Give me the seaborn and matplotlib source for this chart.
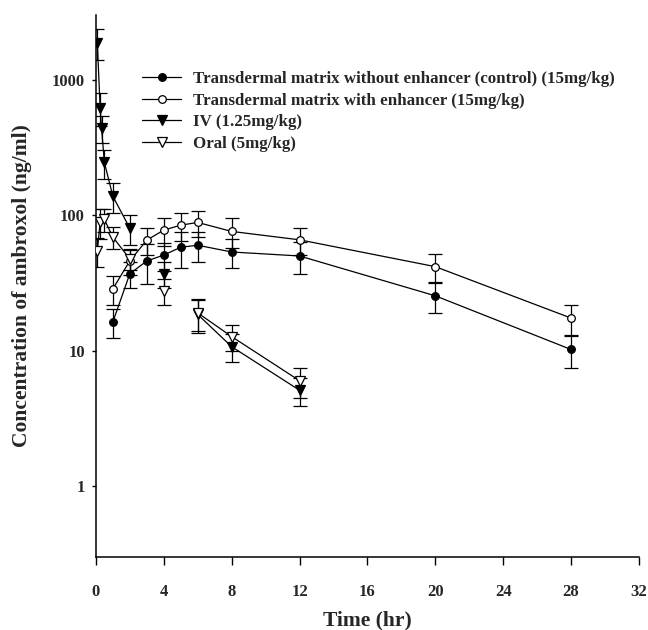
import numpy as np
import pandas as pd
import matplotlib
matplotlib.use("Agg")
import matplotlib.pyplot as plt
from matplotlib.lines import Line2D
from matplotlib.ticker import FixedLocator, NullLocator
import seaborn as sns

# --- data (ng/ml, mean and SD) ---
time_td = [1, 2, 3, 4, 5, 6, 8, 12, 20, 28]
ctrl = [16.3, 37, 45.9, 50.8, 58, 60, 53.5, 50, 25.4, 10.2]
ctrl_sd = [4, 8, 15, 12, 17, 15, 13, 13, 6.5, 2.7]
enh = [28.6, 46, 65.5, 77.6, 84.4, 88.4, 75.9, 65.8, 41.7, 17.4]
enh_sd = [7, 10, 15, 18, 20, 19, 19, 15, 10, 4.4]

# IV / oral share a sampling grid; NaN = no sample (line is broken there)
time_iv = [0.083, 0.25, 0.33, 0.5, 1, 2, 3, 4, 5, 6, 8, 12]
iv = [1870, 622, 444, 245, 138, 80, np.nan, 36.8, np.nan, 18.5, 10.7, 5.1]
iv_sd = [480, 170, 100, 60, 35, 20, np.nan, 8, np.nan, 5, 2.5, 1.2]
time_oral = [0.083, 0.25, 0.5, 1, 2, 3, 4, 5, 6, 8, 12]
oral = [54.4, 88.8, 93, 68.9, 47.5, np.nan, 27.6, np.nan, 19.0, 12.7, 6.0]
oral_sd = [13, 22, 18, 13, 8, np.nan, 6, np.nan, 5, 2.8, 1.5]

labels = ["Transdermal matrix without enhancer (control) (15mg/kg)",
          "Transdermal matrix with enhancer (15mg/kg)",
          "IV (1.25mg/kg)",
          "Oral (5mg/kg)"]

def make_df(t, c, sd, name):
    d = pd.DataFrame({"time": t, "conc": c, "sd": sd})
    d["seg"] = d["conc"].isna().cumsum()
    d["group"] = name
    return d.dropna()

df = pd.concat([make_df(time_td, ctrl, ctrl_sd, labels[0]),
                make_df(time_td, enh, enh_sd, labels[1]),
                make_df(time_iv, iv, iv_sd, labels[2]),
                make_df(time_oral, oral, oral_sd, labels[3])])

styles = {labels[0]: dict(marker="o", mfc="black", ms=5.5),
          labels[1]: dict(marker="o", mfc="white", ms=5.5),
          labels[2]: dict(marker="v", mfc="black", ms=7),
          labels[3]: dict(marker="v", mfc="white", ms=7)}

sns.set_style("ticks")
plt.rcParams["font.family"] = ["Liberation Serif", "DejaVu Serif"]
plt.rcParams["font.weight"] = "bold"

fig = plt.figure(figsize=(6.48, 6.3), dpi=100)
ax = fig.add_axes([0.148, 0.116, 0.838, 0.860])

for name in labels:
    sub = df[df["group"] == name]
    st = styles[name]
    ax.errorbar(sub["time"], sub["conc"], yerr=sub["sd"], fmt="none",
                ecolor="black", elinewidth=0.9, capsize=5, capthick=0.9, zorder=2)
    sns.lineplot(data=sub, x="time", y="conc", units="seg", estimator=None,
                 sort=False, color="black", lw=0.9, marker=st["marker"],
                 markerfacecolor=st["mfc"], markeredgecolor="black",
                 markersize=st["ms"], markeredgewidth=0.9, ax=ax,
                 legend=False, zorder=3)

ax.set_yscale("log")
ax.set_xlim(0, 32)
ax.set_ylim(0.3, 3000)
ax.xaxis.set_major_locator(FixedLocator(range(0, 33, 4)))
ax.yaxis.set_major_locator(FixedLocator([1, 10, 100, 1000]))
ax.yaxis.set_minor_locator(NullLocator())
ax.set_yticklabels(["1", "10", "100", "1000"])
ax.tick_params(axis="both", direction="out", labelsize=12, width=1, color="black")
ax.tick_params(axis="x", length=5.5, pad=14)
ax.tick_params(axis="y", length=3, pad=5)
for lab in ax.get_xticklabels() + ax.get_yticklabels():
    lab.set_fontweight("bold")

sns.despine(ax=ax)
for sp in ["left", "bottom"]:
    ax.spines[sp].set_linewidth(1.1)
    ax.spines[sp].set_color("black")

ax.set_xlabel("Time (hr)", fontsize=15.5, fontweight="bold")
ax.set_ylabel("Concentration of ambroxol (ng/ml)", fontsize=15.5, fontweight="bold")
ax.xaxis.set_label_coords(0.5, -0.098)
ax.yaxis.set_label_coords(-0.118, 0.5)

handles = [Line2D([], [], color="black", lw=0.9, marker=styles[n]["marker"],
                  markerfacecolor=styles[n]["mfc"], markeredgecolor="black",
                  markersize=styles[n]["ms"], markeredgewidth=0.9) for n in labels]
ax.legend(handles, labels, loc="upper left", bbox_to_anchor=(0.085, 0.897),
          frameon=False, borderaxespad=0, borderpad=0, handlelength=2.3,
          handletextpad=0.7, labelspacing=0.33, prop={"size": 12.2, "weight": "bold"})

fig.savefig("out.png", dpi=100)
